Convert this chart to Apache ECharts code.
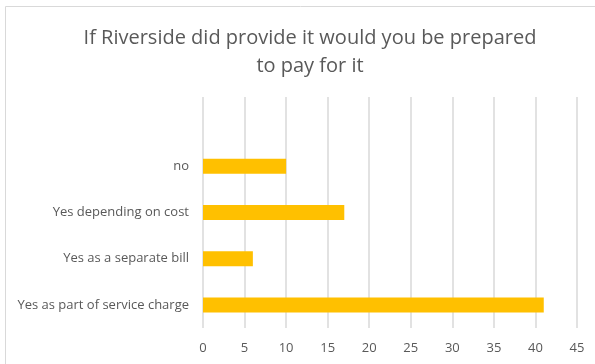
<!DOCTYPE html>
<html>
<head>
<meta charset="utf-8">
<script src="https://cdn.jsdelivr.net/npm/echarts@6/dist/echarts.min.js"></script>
<style>
  html, body { margin: 0; padding: 0; background: #fff; }
  #chart { width: 595px; height: 364px; }
</style>
</head>
<body>
<div id="chart"></div>
<script>
// categories listed bottom to top; the top slot is empty as in the source chart
const categories = ['Yes as part of service charge', 'Yes as a separate bill', 'Yes depending on cost', 'no', '']
const counts = [41, 6, 17, 10, null]
const xTicks = [0, 45, 5] // min, max, interval

const chart = echarts.init(document.getElementById('chart'))
chart.setOption({
  animation: false,
  title: {
    text: 'If Riverside did provide it would you be prepared\nto pay for it',
    left: 305,
    textAlign: 'center',
    top: 19,
    textStyle: {
      fontFamily: 'Open Sans',
      fontSize: 20,
      fontWeight: 'normal',
      color: '#595959',
      lineHeight: 28
    }
  },
  graphic: [{
    type: 'rect',
    shape: { x: 5.5, y: 6.5, width: 590, height: 370 },
    style: { fill: 'none', stroke: '#d9d9d9', lineWidth: 1 },
    silent: true
  }],
  grid: {
    left: 203,
    right: 18,
    top: 97,
    bottom: 36
  },
  xAxis: {
    type: 'value',
    min: xTicks[0],
    max: xTicks[1],
    interval: xTicks[2],
    axisLine: { show: false },
    axisTick: { show: false },
    splitLine: { lineStyle: { color: '#d9d9d9', width: 1.5 } },
    axisLabel: {
      fontFamily: 'Open Sans',
      fontSize: 13,
      color: '#595959',
      margin: 14
    }
  },
  yAxis: {
    type: 'category',
    data: categories,
    axisLine: { show: false },
    axisTick: { show: false },
    axisLabel: {
      fontFamily: 'Open Sans',
      fontSize: 13,
      color: '#595959',
      margin: 14
    }
  },
  series: [{
    type: 'bar',
    data: counts,
    barWidth: 15,
    itemStyle: { color: '#FFC000' }
  }]
})
</script>
</body>
</html>
